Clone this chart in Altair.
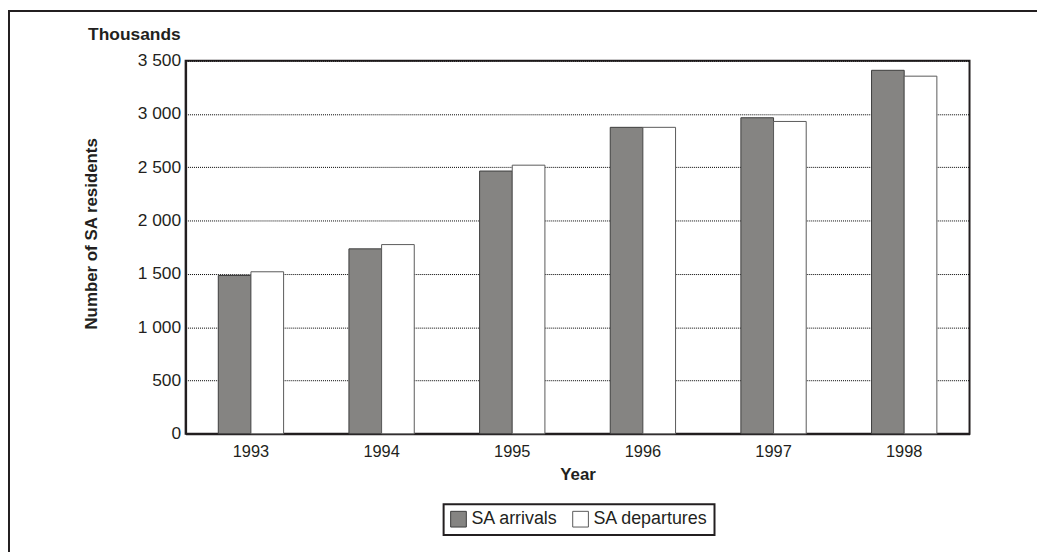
import altair as alt
import pandas as pd

years = ["1993", "1994", "1995", "1996", "1997", "1998"]
series = ["SA arrivals", "SA departures"]
arrivals = [1485, 1735, 2465, 2875, 2965, 3410]
departures = [1520, 1775, 2520, 2875, 2930, 3355]
y_ticks = [0, 500, 1000, 1500, 2000, 2500, 3000, 3500]

rows = []
for i, yr in enumerate(years):
    rows.append({"Year": yr, "Series": series[0], "Value": arrivals[i]})
    rows.append({"Year": yr, "Series": series[1], "Value": departures[i]})
df = pd.DataFrame(rows)

FONT = "Liberation Sans"
DARK = "#231f20"

bars = alt.Chart(df).mark_bar(strokeWidth=1).encode(
    x=alt.X("Year:N", sort=years,
            scale=alt.Scale(paddingInner=0.5, paddingOuter=0.25),
            axis=alt.Axis(title="Year", labelAngle=0, ticks=False, grid=False,
                          labelFontSize=16.5, labelPadding=10, labelColor=DARK,
                          titleFontSize=17, titleFontWeight="bold", titlePadding=7,
                          titleColor=DARK, domainColor=DARK, domainWidth=2)),
    xOffset=alt.XOffset("Series:N", sort=series, scale=alt.Scale(paddingInner=0, paddingOuter=0)),
    y=alt.Y("Value:Q", scale=alt.Scale(domain=[0, 3500], nice=False),
            axis=alt.Axis(title="Number of SA residents", values=y_ticks, ticks=False,
                          labelExpr="replace(format(datum.value, ','), ',', ' ')",
                          labelFontSize=17.5, labelPadding=5, labelColor=DARK,
                          titleFontSize=17, titleFontWeight="bold", titleColor=DARK,
                          titleX=-95, titleY=174, titleAlign="center", titleBaseline="middle",
                          titleAngle=-90,
                          grid=True, gridColor="#000000", gridDash=[1, 1], gridWidth=1,
                          domainColor=DARK, domainWidth=2)),
    color=alt.Color("Series:N", sort=series,
                    scale=alt.Scale(domain=series, range=["#858482", "#ffffff"]),
                    legend=alt.Legend(title=None, orient="none", direction="horizontal",
                                      legendX=260, legendY=447,
                                      symbolType="square", symbolSize=250,
                                      symbolStrokeWidth=1,
                                      labelFontSize=18, labelColor=DARK, labelFont=FONT,
                                      columnPadding=12, symbolOffset=0,
                                      padding=6, strokeColor=DARK)),
    stroke=alt.Stroke("Series:N", sort=series,
                      scale=alt.Scale(domain=series, range=["#3d3d3d", "#5a5a5a"]),
                      legend=None),
)

frame = alt.Chart(alt.Data(values=[{"a": 1}])).mark_rect(
    filled=False, stroke=DARK, strokeWidth=2
).encode(
    x=alt.value(-178), x2=alt.value(900), y=alt.value(-50), y2=alt.value(540)
)

unit_label = alt.Chart(alt.Data(values=[{"t": "Thousands"}])).mark_text(
    align="right", baseline="alphabetic", fontSize=17.5, fontWeight="bold",
    font=FONT, color=DARK
).encode(
    text="t:N", x=alt.value(-5), y=alt.value(-21)
)

chart = alt.layer(bars, frame, unit_label).properties(
    width=790, height=376,
    autosize=alt.AutoSizeParams(type="none"),
    padding={"left": 179, "top": 51, "right": 68, "bottom": 117},
).configure(font=FONT).configure_view(
    stroke=DARK, strokeWidth=2
).configure_legend(strokeWidth=2)

chart.save("out.html", embed_options={"renderer": "svg", "actions": False})
